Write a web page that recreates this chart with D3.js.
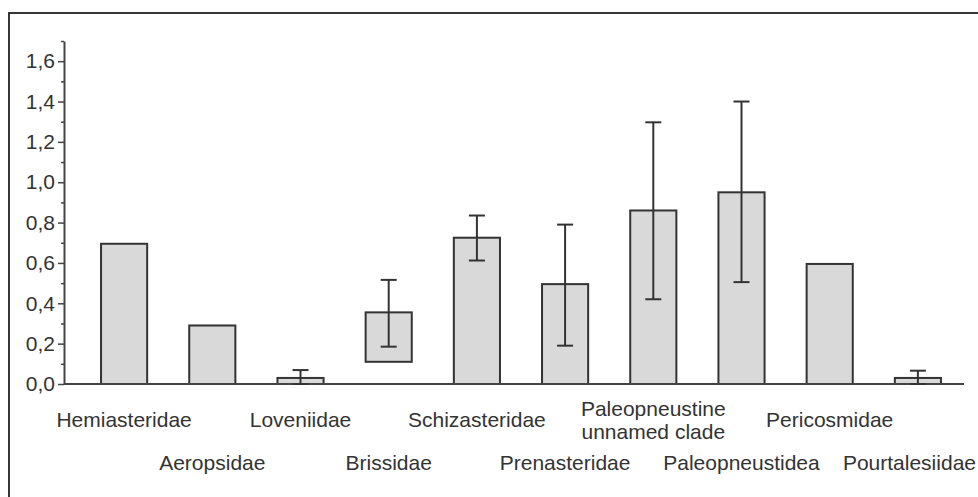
<!DOCTYPE html>
<html>
<head>
<meta charset="utf-8">
<script src="https://cdn.jsdelivr.net/npm/d3@7"></script>
<style>
  html, body { margin: 0; padding: 0; background: #fff; }
  svg { display: block; font-family: Arial, "Liberation Sans", sans-serif; }
</style>
</head>
<body>
<div id="chart"></div>
<script>
// Families of spatangoid echinoids
const categories = [
  "Hemiasteridae", "Aeropsidae", "Loveniidae", "Brissidae", "Schizasteridae",
  "Prenasteridae", "Paleopneustine unnamed clade", "Paleopneustidea",
  "Pericosmidae", "Pourtalesiidae"
];
// Bar extents (top value and base value)
const barTop  = [0.695, 0.29, 0.03, 0.355, 0.725, 0.495, 0.86, 0.95, 0.595, 0.03];
const barBase = [0, 0, 0, 0.11, 0, 0, 0, 0, 0, 0];
// Error bar limits (null = no error bar)
const errLow  = [null, null, 0.0, 0.185, 0.612, 0.19, 0.42, 0.505, null, 0.0];
const errHigh = [null, null, 0.069, 0.516, 0.835, 0.79, 1.297, 1.40, null, 0.066];
// Y axis ticks
const yMajorTicks = [0, 0.2, 0.4, 0.6, 0.8, 1.0, 1.2, 1.4, 1.6];
const yMinorTicks = [0.1, 0.3, 0.5, 0.7, 0.9, 1.1, 1.3, 1.5, 1.7];

const W = 978, H = 497;
const axisX = 64, baseEnd = 964;
const fontSize = 21;
const ink = "#333";

const svg = d3.select("#chart").append("svg")
  .attr("width", W).attr("height", H);

// outer frame (runs off the right and bottom edges)
svg.append("rect")
  .attr("x", 9).attr("y", 13)
  .attr("width", 1200).attr("height", 1200)
  .attr("fill", "none").attr("stroke", "#222").attr("stroke-width", 1.8);

const y = d3.scaleLinear().domain([0, 1.7]).range([384, 41]);
const x = d3.scaleBand().domain(categories)
  .range([80, 962]).paddingInner(0.477).paddingOuter(0.2385);

const fmt = v => d3.format(".1f")(v).replace(".", ",");

// y axis with major labelled ticks
const yAxis = svg.append("g")
  .attr("transform", `translate(${axisX},0)`)
  .call(d3.axisLeft(y).tickValues(yMajorTicks).tickFormat(fmt)
    .tickSize(6).tickSizeOuter(0).tickPadding(3));
yAxis.select(".domain").attr("stroke", "#444").attr("stroke-width", 2);
yAxis.selectAll(".tick line").attr("stroke", "#444").attr("stroke-width", 1.5);
yAxis.selectAll(".tick text")
  .attr("font-size", fontSize).attr("fill", ink)
  .attr("font-family", "Arial, 'Liberation Sans', sans-serif");

// minor ticks
svg.append("g")
  .attr("transform", `translate(${axisX},0)`)
  .call(d3.axisLeft(y).tickValues(yMinorTicks).tickFormat("").tickSize(3).tickSizeOuter(0))
  .call(g => g.select(".domain").remove())
  .call(g => g.selectAll(".tick line").attr("stroke", "#444").attr("stroke-width", 1.5));

// bars
svg.append("g").selectAll("rect")
  .data(categories)
  .join("rect")
  .attr("x", (d) => x(d))
  .attr("width", x.bandwidth())
  .attr("y", (d, i) => y(barTop[i]))
  .attr("height", (d, i) => y(barBase[i]) - y(barTop[i]))
  .attr("fill", "#d9d9d9")
  .attr("stroke", ink)
  .attr("stroke-width", 2);

// baseline
svg.append("line")
  .attr("x1", axisX).attr("x2", baseEnd)
  .attr("y1", y(0)).attr("y2", y(0))
  .attr("stroke", "#444").attr("stroke-width", 2);

// error bars
const capHalf = 8;
const eg = svg.append("g").attr("stroke", ink).attr("stroke-width", 2);
categories.forEach((c, i) => {
  if (errLow[i] === null) return;
  const cx = x(c) + x.bandwidth() / 2;
  eg.append("line").attr("x1", cx).attr("x2", cx)
    .attr("y1", y(errLow[i])).attr("y2", y(errHigh[i]));
  eg.append("line").attr("x1", cx - capHalf).attr("x2", cx + capHalf)
    .attr("y1", y(errHigh[i])).attr("y2", y(errHigh[i]));
  eg.append("line").attr("x1", cx - capHalf).attr("x2", cx + capHalf)
    .attr("y1", y(errLow[i])).attr("y2", y(errLow[i]));
});

// category labels, staggered over two rows
const row1 = 427, row2 = 470, lineGap = 23;
const lg = svg.append("g")
  .attr("font-size", fontSize).attr("fill", ink).attr("text-anchor", "middle");
categories.forEach((c, i) => {
  const cx = x(c) + x.bandwidth() / 2;
  const base = i % 2 === 0 ? row1 : row2;
  const lines = c === "Paleopneustine unnamed clade"
    ? ["Paleopneustine", "unnamed clade"] : [c];
  const t = lg.append("text").attr("x", cx);
  const startY = base - (lines.length - 1) * lineGap / 2;
  lines.forEach((ln, k) => {
    t.append("tspan").attr("x", cx).attr("y", startY + k * lineGap).text(ln);
  });
  // keep the last label inside the page
  const bb = t.node().getBBox();
  if (bb.x + bb.width > W - 2) {
    const shift = bb.x + bb.width - (W - 2);
    t.selectAll("tspan").attr("x", cx - shift);
  }
});
</script>
</body>
</html>
